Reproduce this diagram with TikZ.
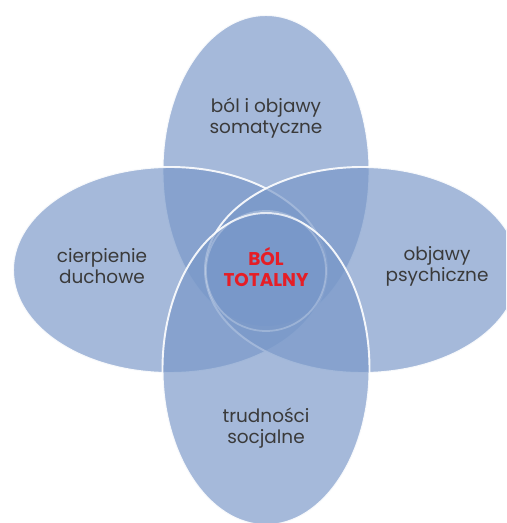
\documentclass[tikz,border=0pt]{standalone}
\usepackage{fontspec}
\setmainfont{Poppins}
\usepackage{tikz}
\usetikzlibrary{shapes.geometric}

\definecolor{petalblue}{RGB}{121,152,201}
\definecolor{labelgray}{RGB}{58,58,58}
\definecolor{totalred}{RGB}{230,30,38}

\tikzset{
    petal/.style={ellipse, inner sep=0pt, fill=petalblue, fill opacity=0.67,
        draw=white, draw opacity=0.9, line width=1.1pt},
    upright/.style={petal, minimum width=4.14cm, minimum height=6.24cm},
    sideways/.style={petal, minimum width=6.28cm, minimum height=4.12cm},
    caption/.style={align=center, text=labelgray, font=\fontsize{10.5}{12}\selectfont}
}

\begin{document}
\begin{tikzpicture}
            \clip (-5.32,-5.06) rectangle (4.80,5.40);
            \fill[white] (-5.32,-5.06) rectangle (4.80,5.40);

            % four overlapping petals
            \node[upright] (soma) at (0,1.98) {};
            \node[sideways] (duch) at (-1.92,0) {};
            \node[sideways] (psych) at (1.92,0) {};
            \node[upright] (soc) at (0,-1.98) {};

            % core
            \node[circle, minimum size=2.4cm, inner sep=0pt, fill=petalblue, fill opacity=0.12,
                draw=white, draw opacity=0.25, line width=1pt] (core) at (0,-0.02) {};

            \node[caption] (somaText) at (0,3.04) {ból i objawy\\somatyczne};
            \node[caption] (duchText) at (-3.28,0.07) {cierpienie\\duchowe};
            \node[caption] (psychText) at (3.42,0.07) {objawy\\psychiczne};
            \node[caption] (socText) at (0,-3.16) {trudności\\socjalne};
            \node[caption, text=totalred, font=\fontsize{10.5}{12}\selectfont\bfseries] (total) at (0,0.06) {BÓL\\TOTALNY};
        \end{tikzpicture}
\end{document}
